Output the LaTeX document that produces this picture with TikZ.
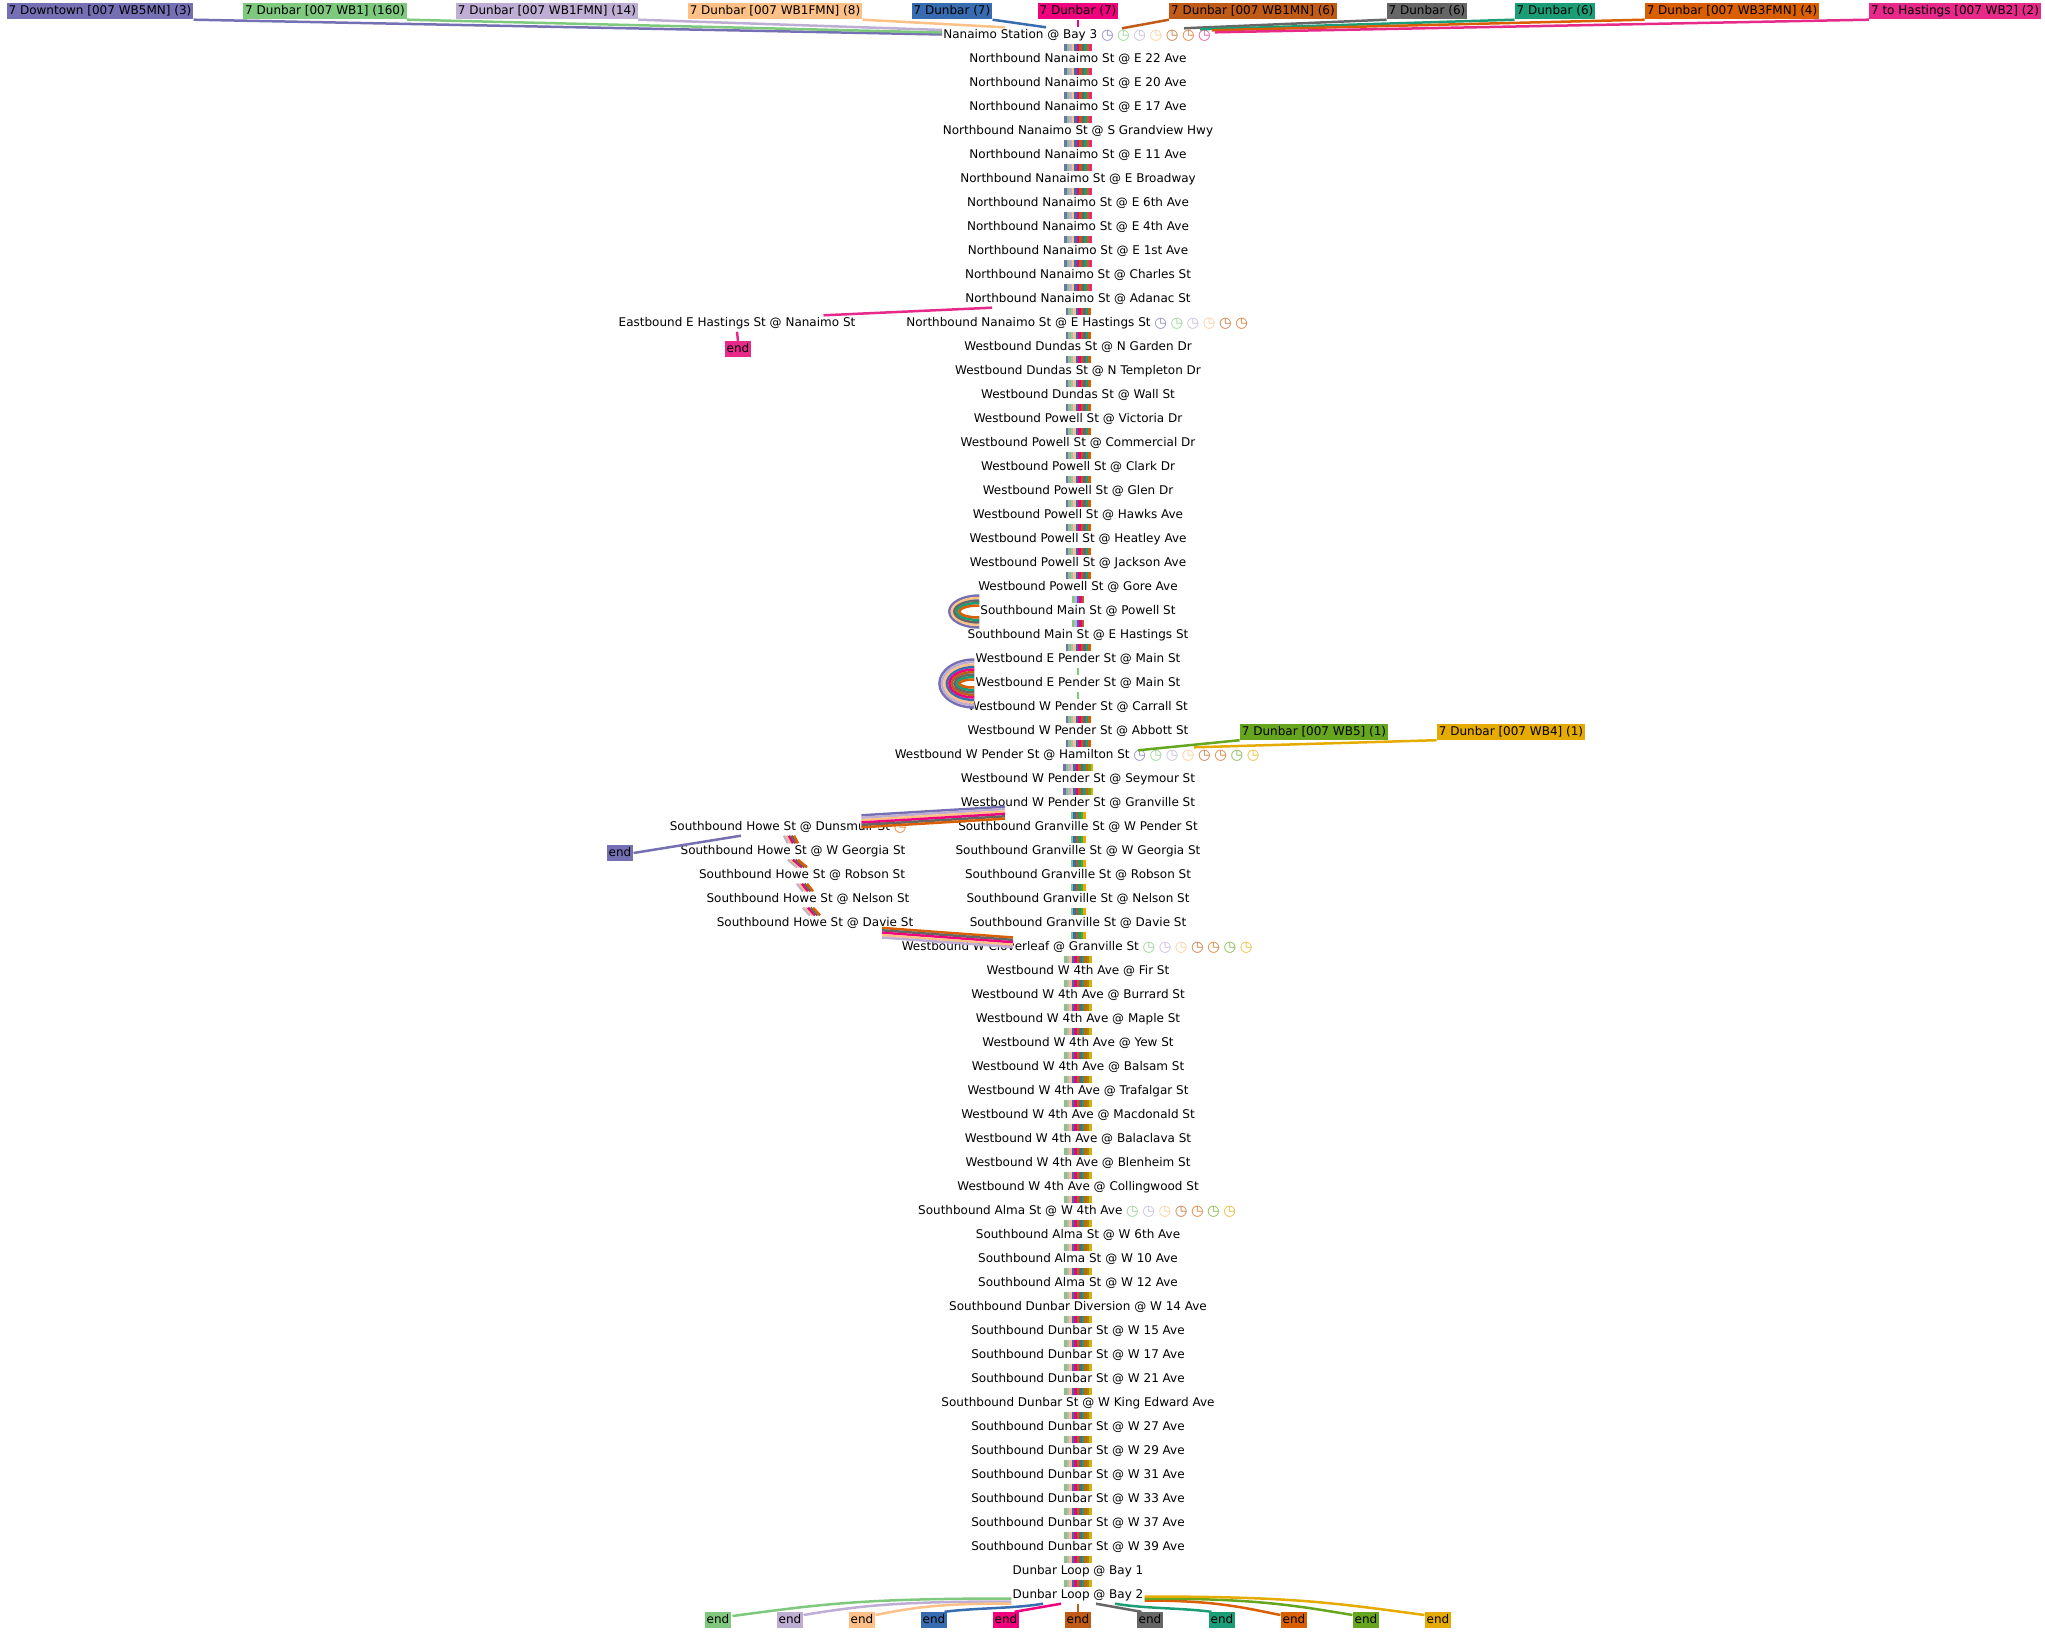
\documentclass[tikz,border=0pt]{standalone}
\usepackage{fontspec}
\setmainfont{DejaVu Sans}

\definecolor{ra}{HTML}{7570B3}
\definecolor{rb}{HTML}{7FC97F}
\definecolor{rc}{HTML}{BEAED4}
\definecolor{rd}{HTML}{FDC086}
\definecolor{re}{HTML}{386CB0}
\definecolor{rf}{HTML}{F0027F}
\definecolor{rg}{HTML}{BF5B17}
\definecolor{rh}{HTML}{666666}
\definecolor{ri}{HTML}{1B9E77}
\definecolor{rj}{HTML}{D95F02}
\definecolor{rk}{HTML}{E7298A}
\definecolor{rl}{HTML}{66A61E}
\definecolor{rm}{HTML}{E6AB02}

\tikzset{
  stop/.style={inner xsep=1pt, inner ysep=2.5pt, text height=8.5pt, text depth=2.5pt, font=\fontsize{12}{14}\selectfont},
  rbox/.style={stop, fill=#1, inner xsep=2pt},
  ln/.style={draw=#1, line width=2.5pt},
}

\def\lsAll{ra,rb,rc,rd,re,rf,rg,rh,ri,rj,rk}
\def\lsTen{ra,rb,rc,rd,re,rf,rg,rh,ri,rj}
\def\lsTw{ra,rb,rc,rd,re,rf,rg,rh,ri,rj,rl,rm}
\def\lsDi{rb,rc,re,rf,rg}
\def\lsGo{ra,rd,rh,ri,rj}
\def\lsGn{rb}
\def\lsPe{ra,rc,rd,re,rf,rg,rh,ri,rj}
\def\lsGr{rb,re,rg,ri,rl,rm}
\def\lsHo{rc,rd,rf,rh,rj}
\def\lsWe{rb,rc,rd,re,rf,rg,rh,ri,rj,rl,rm}

\newcommand\clocks[1]{\hspace{2pt}\foreach \c in {#1}{\makebox[16.2pt]{\fontsize{14.5}{14}\selectfont\raisebox{-0.6pt}{\color{\c!80!white}◷}}}}
% stripes between two stops
\newcommand\bundle[3]{%
  \foreach \c [count=\n] in #3 {\xdef\nb{\n}}%
  \foreach \c [count=\k] in #3
    \draw[ln=\c] ([xshift={(\k-(\nb+1)/2)*2.5pt}]#1.south) -- ([xshift={(\k-(\nb+1)/2)*2.5pt}]#2.north);}
% slanted band between two coordinates
\newcommand\band[3]{%
  \foreach \c [count=\n] in #3 {\xdef\nb{\n}}%
  \foreach \c [count=\k] in #3
    \draw[ln=\c] ([yshift={((\nb+1)/2-\k)*2.4pt}]#1) -- ([yshift={((\nb+1)/2-\k)*2.4pt}]#2);}
% bypass round a skipped stop
\newcommand\arcb[4]{%
  \foreach \c [count=\k] in #4 {
    \pgfmathsetmacro\rx{#2-2.5*(\k-1)}\pgfmathsetmacro\ry{#3-2.5*(\k-1)}
    \draw[ln=\c] ([shift={(0,\ry)}]#1.west) arc[start angle=90, end angle=270, x radius=\rx, y radius=\ry];}}

\begin{document}
\begin{tikzpicture}[x=1pt, y=1pt]
  \useasboundingbox (0,0) rectangle (2045,-1632);

  \foreach \t [count=\i] in {{Nanaimo Station @ Bay 3\clocks{ra,rb,rc,rd,rg,rj,rk}},
    Northbound Nanaimo St @ E 22 Ave,
    Northbound Nanaimo St @ E 20 Ave,
    Northbound Nanaimo St @ E 17 Ave,
    Northbound Nanaimo St @ S Grandview Hwy,
    Northbound Nanaimo St @ E 11 Ave,
    Northbound Nanaimo St @ E Broadway,
    Northbound Nanaimo St @ E 6th Ave,
    Northbound Nanaimo St @ E 4th Ave,
    Northbound Nanaimo St @ E 1st Ave,
    Northbound Nanaimo St @ Charles St,
    Northbound Nanaimo St @ Adanac St,
    {Northbound Nanaimo St @ E Hastings St\clocks{ra,rb,rc,rd,rg,rj}},
    Westbound Dundas St @ N Garden Dr,
    Westbound Dundas St @ N Templeton Dr,
    Westbound Dundas St @ Wall St,
    Westbound Powell St @ Victoria Dr,
    Westbound Powell St @ Commercial Dr,
    Westbound Powell St @ Clark Dr,
    Westbound Powell St @ Glen Dr,
    Westbound Powell St @ Hawks Ave,
    Westbound Powell St @ Heatley Ave,
    Westbound Powell St @ Jackson Ave,
    Westbound Powell St @ Gore Ave,
    Southbound Main St @ Powell St,
    Southbound Main St @ E Hastings St,
    Westbound E Pender St @ Main St,
    Westbound E Pender St @ Main St,
    Westbound W Pender St @ Carrall St,
    Westbound W Pender St @ Abbott St,
    {Westbound W Pender St @ Hamilton St\clocks{ra,rb,rc,rd,rg,rj,rl,rm}},
    Westbound W Pender St @ Seymour St,
    Westbound W Pender St @ Granville St,
    Southbound Granville St @ W Pender St,
    Southbound Granville St @ W Georgia St,
    Southbound Granville St @ Robson St,
    Southbound Granville St @ Nelson St,
    Southbound Granville St @ Davie St,
    {Westbound W Cloverleaf @ Granville St\clocks{rb,rc,rd,rg,rj,rl,rm}},
    Westbound W 4th Ave @ Fir St,
    Westbound W 4th Ave @ Burrard St,
    Westbound W 4th Ave @ Maple St,
    Westbound W 4th Ave @ Yew St,
    Westbound W 4th Ave @ Balsam St,
    Westbound W 4th Ave @ Trafalgar St,
    Westbound W 4th Ave @ Macdonald St,
    Westbound W 4th Ave @ Balaclava St,
    Westbound W 4th Ave @ Blenheim St,
    Westbound W 4th Ave @ Collingwood St,
    {Southbound Alma St @ W 4th Ave\clocks{rb,rc,rd,rg,rj,rl,rm}},
    Southbound Alma St @ W 6th Ave,
    Southbound Alma St @ W 10 Ave,
    Southbound Alma St @ W 12 Ave,
    Southbound Dunbar Diversion @ W 14 Ave,
    Southbound Dunbar St @ W 15 Ave,
    Southbound Dunbar St @ W 17 Ave,
    Southbound Dunbar St @ W 21 Ave,
    Southbound Dunbar St @ W King Edward Ave,
    Southbound Dunbar St @ W 27 Ave,
    Southbound Dunbar St @ W 29 Ave,
    Southbound Dunbar St @ W 31 Ave,
    Southbound Dunbar St @ W 33 Ave,
    Southbound Dunbar St @ W 37 Ave,
    Southbound Dunbar St @ W 39 Ave,
    Dunbar Loop @ Bay 1,
    Dunbar Loop @ Bay 2}
    \node[stop] (s\i) at (1078,{-35.5-24*(\i-1)}) {\t};

  % branches off the main column
  \node[stop] (x1) at (737,-323.5) {Eastbound E Hastings St @ Nanaimo St};
  \node[stop] (h1) at (789,-827.5) {Southbound Howe St @ Dunsmuir St\clocks{rj}};
  \node[stop] (h2) at (793,-851.5) {Southbound Howe St @ W Georgia St};
  \node[stop] (h3) at (802,-875.5) {Southbound Howe St @ Robson St};
  \node[stop] (h4) at (808,-899.5) {Southbound Howe St @ Nelson St};
  \node[stop] (h5) at (815,-923.5) {Southbound Howe St @ Davie St};

  % trips
  \foreach \x/\c/\t [count=\i] in {100/ra/{7 Downtown [007 WB5MN] (3)}, 325/rb/{7 Dunbar [007 WB1] (160)},
      547/rc/{7 Dunbar [007 WB1FMN] (14)}, 775/rd/{7 Dunbar [007 WB1FMN] (8)}, 952/re/{7 Dunbar (7)},
      1078/rf/{7 Dunbar (7)}, 1253/rg/{7 Dunbar [007 WB1MN] (6)}, 1427/rh/{7 Dunbar (6)},
      1555/ri/{7 Dunbar (6)}, 1732/rj/{7 Dunbar [007 WB3FMN] (4)}, 1955/rk/{7 to Hastings [007 WB2] (2)}}
    \node[rbox=\c] (r\i) at (\x,-11.5) {\t};
  \node[rbox=rl] (r12) at (1314,-732) {7 Dunbar [007 WB5] (1)};
  \node[rbox=rm] (r13) at (1511,-732) {7 Dunbar [007 WB4] (1)};

  \foreach \c [count=\i] in {rb,rc,rd,re,rf,rg,rh,ri,rj,rl,rm}
    \node[rbox=\c] (e\c) at ({646+72*\i},-1620) {end};
  \node[rbox=ra] (era) at (620,-853) {end};
  \node[rbox=rk] (erk) at (738,-349) {end};

  % into the first stop
  \draw[ln=ra] (r1.south east) -- ([shift={(0,1)}]s1.west);
  \draw[ln=rb] (r2.south east) -- ([shift={(0,3)}]s1.west);
  \draw[ln=rc] (r3.south east) -- ([shift={(0,5.5)}]s1.west);
  \draw[ln=rd] (r4.south east) -- ([shift={(-73,0)}]s1.north);
  \draw[ln=re] (r5.south east) -- ([shift={(-32,0)}]s1.north);
  \draw[ln=rf] (r6.south) -- (s1.north);
  \draw[ln=rg] (r7.south west) -- ([shift={(44,-1)}]s1.north);
  \draw[ln=rh] (r8.south west) -- ([shift={(106,-1)}]s1.north);
  \draw[ln=ri] (r9.south west) -- ([shift={(122,-2)}]s1.north);
  \draw[ln=rj] (r10.south west) -- ([shift={(-2,-3)}]s1.north east);
  \draw[ln=rk] (r11.south west) -- ([shift={(1,-5)}]s1.north east);
  \draw[ln=rl] (r12.south west) -- ([shift={(60,-3)}]s31.north);
  \draw[ln=rm] (r13.south west) -- ([shift={(116,0)}]s31.north);

  % main column
  \foreach \i in {1,...,11} {\pgfmathtruncatemacro\j{\i+1}\bundle{s\i}{s\j}{\lsAll}}
  \foreach \i in {12,...,23,26,29,30} {\pgfmathtruncatemacro\j{\i+1}\bundle{s\i}{s\j}{\lsTen}}
  \foreach \i in {24,25} {\pgfmathtruncatemacro\j{\i+1}\bundle{s\i}{s\j}{\lsDi}}
  \foreach \i in {27,28} {\pgfmathtruncatemacro\j{\i+1}\bundle{s\i}{s\j}{\lsGn}}
  \foreach \i in {31,32} {\pgfmathtruncatemacro\j{\i+1}\bundle{s\i}{s\j}{\lsTw}}
  \foreach \i in {33,...,38} {\pgfmathtruncatemacro\j{\i+1}\bundle{s\i}{s\j}{\lsGr}}
  \foreach \i in {39,...,65} {\pgfmathtruncatemacro\j{\i+1}\bundle{s\i}{s\j}{\lsWe}}
  \arcb{s25}{30}{16}{\lsGo}
  \arcb{s28}{35}{24}{\lsPe}

  % Hastings branch
  \draw[ln=rk] ([shift={(28,0)}]s12.south west) -- ([shift={(-33,0)}]x1.north east);
  \draw[ln=rk] (x1.south) -- (erk.north);

  % Howe St detour
  \coordinate (hwA) at ([shift={(-73,-1)}]s33.south);
  \coordinate (hwB) at ([shift={(-48,-2)}]h1.north east);
  \band{hwA}{hwB}{{ra,rc,rd,rf,rh,rj}}
  \draw[ln=ra] ([xshift=-48pt]h1.south) -- (era.east);
  \foreach \i in {1,...,4} {\pgfmathtruncatemacro\j{\i+1}\bundle{h\i}{h\j}{\lsHo}}
  \coordinate (dvA) at ([shift={(67,-1)}]h5.south);
  \coordinate (dvB) at ([shift={(-65,-3)}]s39.north);
  \band{dvA}{dvB}{{rj,rh,rf,rd,rc}}

  % out of the last stop
  \draw[ln=rb] ([shift={(0,-3)}]s66.west) .. controls +(-150,0) and +(90,12) .. ([shift={(1,4)}]erb.east);
  \draw[ln=rc] ([shift={(0,-6)}]s66.west) .. controls +(-110,0) and +(60,10) .. ([shift={(0,5)}]erc.east);
  \draw[ln=rd] ([shift={(0,-8)}]s66.west) .. controls +(-70,0) and +(40,8) .. ([shift={(0,5)}]erd.east);
  \draw[ln=re] ([shift={(-35,0)}]s66.south) .. controls +(-30,-5) and +(30,4) .. ([shift={(-3,0)}]ere.north east);
  \draw[ln=rf] ([shift={(-17,0)}]s66.south) -- ([shift={(-5,0)}]erf.north east);
  \draw[ln=rg] (s66.south) -- (erg.north);
  \draw[ln=rh] ([shift={(18,0)}]s66.south) -- ([shift={(5,0)}]erh.north west);
  \draw[ln=ri] ([shift={(37,0)}]s66.south) .. controls +(30,-5) and +(-30,4) .. ([shift={(3,0)}]eri.north west);
  \draw[ln=rj] ([shift={(0,-5)}]s66.east) .. controls +(70,0) and +(-40,8) .. ([shift={(0,5)}]erj.west);
  \draw[ln=rl] ([shift={(0,-3)}]s66.east) .. controls +(110,0) and +(-60,10) .. ([shift={(0,5)}]erl.west);
  \draw[ln=rm] ([shift={(0,-1)}]s66.east) .. controls +(150,0) and +(-90,12) .. ([shift={(0,5)}]erm.west);
\end{tikzpicture}
\end{document}
